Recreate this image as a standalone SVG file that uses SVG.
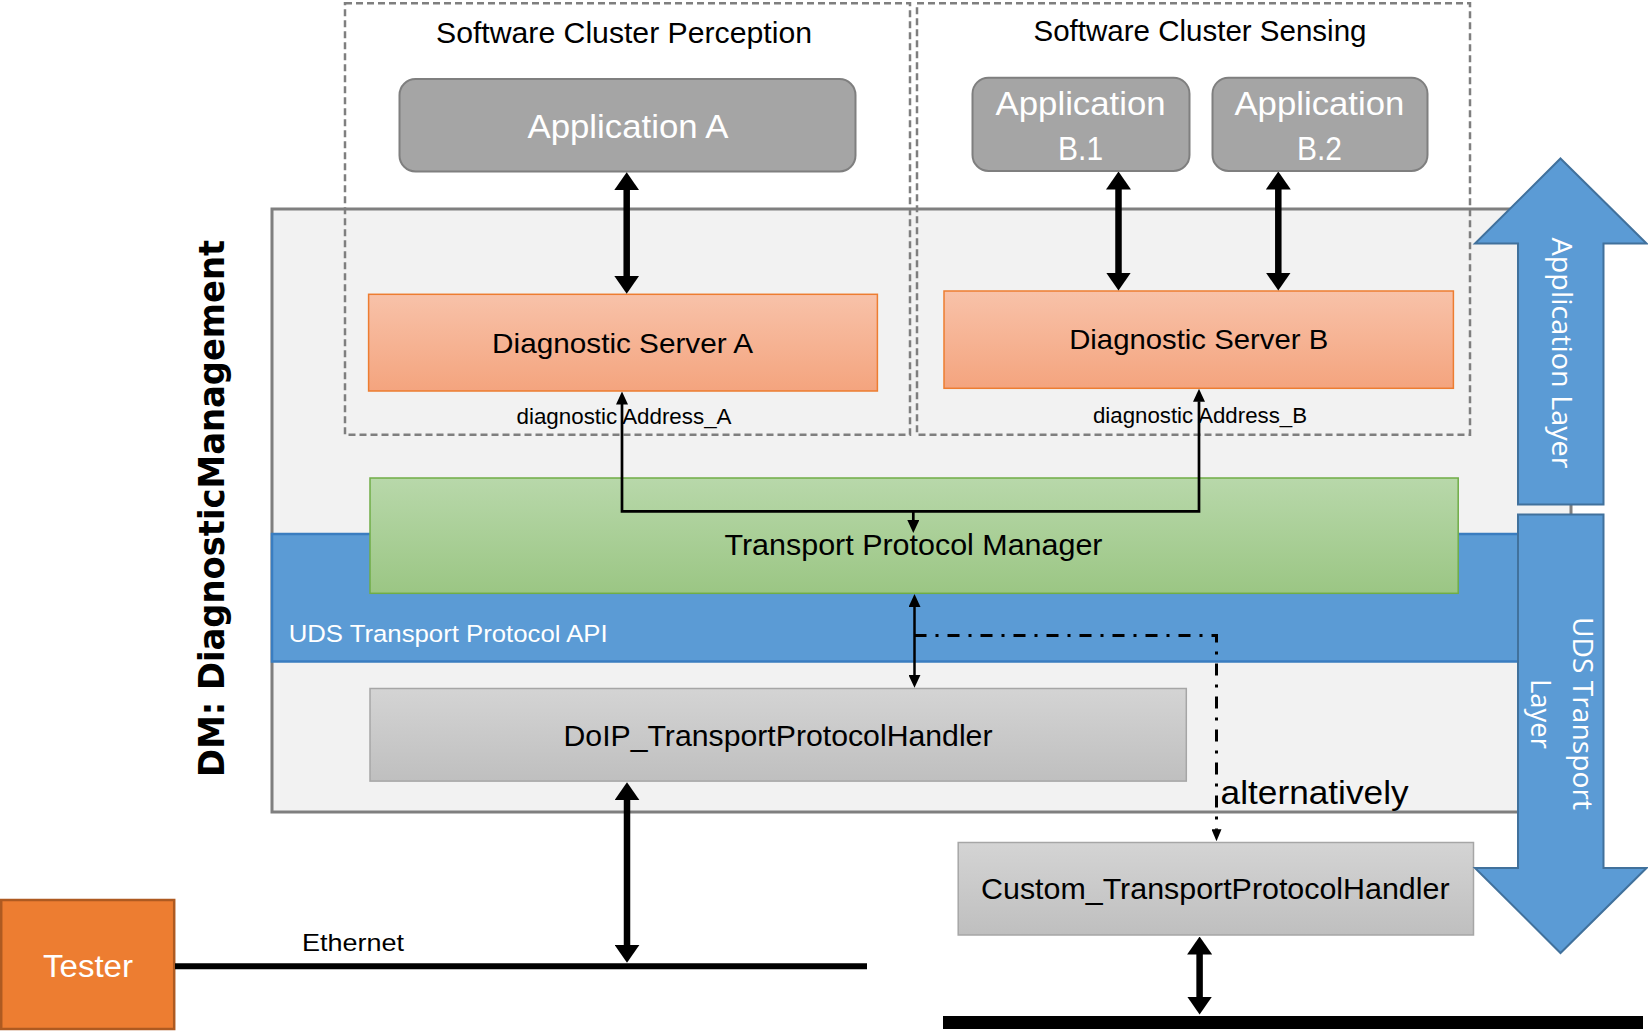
<svg xmlns="http://www.w3.org/2000/svg" width="1648" height="1031" viewBox="0 0 1648 1031">
<defs>
<linearGradient id="gOrange" x1="0" y1="0" x2="0" y2="1"><stop offset="0" stop-color="#f8c2a9"/><stop offset="1" stop-color="#f4a47e"/></linearGradient>
<linearGradient id="gGreen" x1="0" y1="0" x2="0" y2="1"><stop offset="0" stop-color="#b8d8aa"/><stop offset="1" stop-color="#9bc684"/></linearGradient>
<linearGradient id="gGrey" x1="0" y1="0" x2="0" y2="1"><stop offset="0" stop-color="#d4d4d4"/><stop offset="1" stop-color="#bfbfbf"/></linearGradient>
<marker id="thick" viewBox="0 0 18 25" refX="0.5" refY="12.5" markerWidth="18" markerHeight="25" markerUnits="userSpaceOnUse" orient="auto-start-reverse"><path d="M0,0 L18,12.5 L0,25 z" fill="#000"/></marker>
<marker id="thin" viewBox="0 0 13 12" refX="0.5" refY="6" markerWidth="13" markerHeight="12" markerUnits="userSpaceOnUse" orient="auto-start-reverse"><path d="M0,0 L13,6 L0,12 z" fill="#000"/></marker>
<marker id="tiny" viewBox="0 0 12 10" refX="0.5" refY="5" markerWidth="12" markerHeight="10" markerUnits="userSpaceOnUse" orient="auto"><path d="M0,0 L12,5 L0,10 z" fill="#000"/></marker>
</defs>
<style>
.t{font-family:"Liberation Sans",Arial,sans-serif;fill:#000}
.w{fill:#fff}
.o{font-family:"Open Sans","DejaVu Sans",sans-serif;fill:#fff;font-size:28px}
.dash{fill:none;stroke:#7f7f7f;stroke-width:2.5;stroke-dasharray:7 4}
.app{fill:#a5a5a5;stroke:#7f7f7f;stroke-width:2}
.srv{fill:url(#gOrange);stroke:#ed7d31;stroke-width:1.5}
.hdl{fill:url(#gGrey);stroke:#a6a6a6;stroke-width:1.5}
.big{fill:#5b9bd5;stroke:#41719c;stroke-width:2}
.ta{fill:none;stroke:#000;stroke-width:6.5;marker-start:url(#thick);marker-end:url(#thick)}
</style>

<g id="dm-box">
<rect x="272" y="209" width="1299" height="603" fill="#f2f2f2" stroke="#7f7f7f" stroke-width="3"/>
</g>
<g id="uds-api">
<rect x="272" y="534" width="1299" height="127.5" fill="#5b9bd5" stroke="#3a7dc0" stroke-width="2.5"/>
<text class="t w" x="288.7" y="641.7" font-size="24.5" textLength="319" lengthAdjust="spacingAndGlyphs">UDS Transport Protocol API</text>
</g>
<g id="cluster-perception">
<rect class="dash" x="345" y="3.3" width="565" height="431.5"/>
<text class="t" x="624" y="43.3" font-size="29" text-anchor="middle" textLength="376" lengthAdjust="spacingAndGlyphs">Software Cluster Perception</text>
</g>
<g id="cluster-sensing">
<rect class="dash" x="917" y="3.3" width="553" height="431.5"/>
<text class="t" x="1200" y="41" font-size="29" text-anchor="middle" textLength="333" lengthAdjust="spacingAndGlyphs">Software Cluster Sensing</text>
</g>
<g id="app-a">
<rect class="app" x="399.5" y="79" width="456" height="92.5" rx="16"/>
<text class="t w" x="628" y="137.5" font-size="33" text-anchor="middle" textLength="201" lengthAdjust="spacingAndGlyphs">Application A</text>
</g>
<g id="app-b1">
<rect class="app" x="972.5" y="77.7" width="217" height="93.3" rx="16"/>
<text class="t w" x="1080.6" y="114.5" font-size="33" text-anchor="middle" textLength="170" lengthAdjust="spacingAndGlyphs">Application</text>
<text class="t w" x="1080.6" y="159.5" font-size="33" text-anchor="middle" textLength="45" lengthAdjust="spacingAndGlyphs">B.1</text>
</g>
<g id="app-b2">
<rect class="app" x="1212.5" y="77.7" width="215" height="93.3" rx="16"/>
<text class="t w" x="1319.4" y="114.5" font-size="33" text-anchor="middle" textLength="170" lengthAdjust="spacingAndGlyphs">Application</text>
<text class="t w" x="1319.4" y="159.5" font-size="33" text-anchor="middle" textLength="45" lengthAdjust="spacingAndGlyphs">B.2</text>
</g>
<g id="server-a">
<rect class="srv" x="368.6" y="294.3" width="508.8" height="96.7"/>
<text class="t" x="622.6" y="352.7" font-size="28.5" text-anchor="middle" textLength="261" lengthAdjust="spacingAndGlyphs">Diagnostic Server A</text>
</g>
<g id="server-b">
<rect class="srv" x="944" y="291" width="509.4" height="97.3"/>
<text class="t" x="1198.7" y="349.3" font-size="28.5" text-anchor="middle" textLength="259" lengthAdjust="spacingAndGlyphs">Diagnostic Server B</text>
</g>
<g id="label-addr-a">
<text class="t" x="624" y="424.3" font-size="21.5" text-anchor="middle" textLength="215" lengthAdjust="spacingAndGlyphs">diagnostic Address_A</text>
</g>
<g id="label-addr-b">
<text class="t" x="1200" y="422.7" font-size="21.5" text-anchor="middle" textLength="214" lengthAdjust="spacingAndGlyphs">diagnostic Address_B</text>
</g>
<g id="tpm">
<rect x="370" y="478" width="1088.2" height="115.3" fill="url(#gGreen)" stroke="#70ad47" stroke-width="1.5"/>
<text class="t" x="913.5" y="555" font-size="29.5" text-anchor="middle" textLength="378" lengthAdjust="spacingAndGlyphs">Transport Protocol Manager</text>
</g>
<g id="doip">
<rect class="hdl" x="370" y="688.5" width="816.3" height="92.6"/>
<text class="t" x="778" y="746" font-size="29.5" text-anchor="middle" textLength="429" lengthAdjust="spacingAndGlyphs">DoIP_TransportProtocolHandler</text>
</g>
<g id="custom">
<rect class="hdl" x="958.2" y="842.5" width="515.3" height="92.5"/>
<text class="t" x="1215.3" y="899" font-size="29.5" text-anchor="middle" textLength="468.5" lengthAdjust="spacingAndGlyphs">Custom_TransportProtocolHandler</text>
</g>
<g id="app-layer-arrow">
<polygon class="big" points="1560.5,158.5 1646.5,243.5 1603.5,243.5 1603.5,504.5 1518,504.5 1518,243.5 1475,243.5"/>
<text class="o" transform="translate(1552,353) rotate(90)" text-anchor="middle" textLength="231" lengthAdjust="spacingAndGlyphs">Application Layer</text>
</g>
<g id="uds-layer-arrow">
<polygon class="big" points="1518,514.5 1603.5,514.5 1603.5,868 1646.5,868 1560.5,953 1475,868 1518,868"/>
<text class="o" transform="translate(1573,713.5) rotate(90)" text-anchor="middle" textLength="193" lengthAdjust="spacingAndGlyphs">UDS Transport</text>
<text class="o" transform="translate(1531,714) rotate(90)" text-anchor="middle" textLength="70" lengthAdjust="spacingAndGlyphs">Layer</text>
</g>
<g id="dm-title">
<text transform="translate(224,508.4) rotate(-90)" font-family="'DejaVu Sans',Verdana,sans-serif" font-weight="bold" font-size="36" text-anchor="middle" textLength="537" lengthAdjust="spacingAndGlyphs" fill="#000">DM: DiagnosticManagement</text>
</g>
<g id="tester">
<rect x="1.2" y="900" width="173" height="129" fill="#ed7d31" stroke="#ae5a21" stroke-width="2.5"/>
<text class="t w" x="88" y="976.7" font-size="31" text-anchor="middle" textLength="90" lengthAdjust="spacingAndGlyphs">Tester</text>
</g>
<g id="ethernet-bus">
<line x1="175" y1="966.3" x2="867" y2="966.3" stroke="#000" stroke-width="6"/>
<text class="t" x="302" y="950.7" font-size="24" textLength="102" lengthAdjust="spacingAndGlyphs">Ethernet</text>
</g>
<g id="custom-bus">
<rect x="943" y="1016" width="700" height="13" fill="#000"/>
</g>
<g id="label-alternatively">
<text class="t" x="1220.6" y="803.7" font-size="33" textLength="188" lengthAdjust="spacingAndGlyphs">alternatively</text>
</g>

<g id="connectors">
<line class="ta" x1="626.7" y1="189.7" x2="626.7" y2="276.3"/>
<line class="ta" x1="1118.5" y1="189" x2="1118.5" y2="273"/>
<line class="ta" x1="1278.3" y1="189" x2="1278.3" y2="273"/>
<line class="ta" x1="627" y1="799.7" x2="627" y2="945.3"/>
<line class="ta" x1="1199.6" y1="954" x2="1199.6" y2="997"/>
<path d="M622,404 V511.3 H1199 V401.3" fill="none" stroke="#000" stroke-width="2.7" stroke-linejoin="miter" marker-start="url(#thin)" marker-end="url(#thin)"/>
<line x1="913.3" y1="511.3" x2="913.3" y2="520.5" stroke="#000" stroke-width="2.7" marker-end="url(#thin)"/>
<line x1="914.5" y1="606.5" x2="914.5" y2="675.3" stroke="#000" stroke-width="2.5" marker-start="url(#thin)" marker-end="url(#thin)"/>
<path d="M914.5,635.5 H1216.5 V829.7" fill="none" stroke="#000" stroke-width="3" stroke-dasharray="12 9 3 9" marker-end="url(#tiny)"/>
</g>
</svg>
